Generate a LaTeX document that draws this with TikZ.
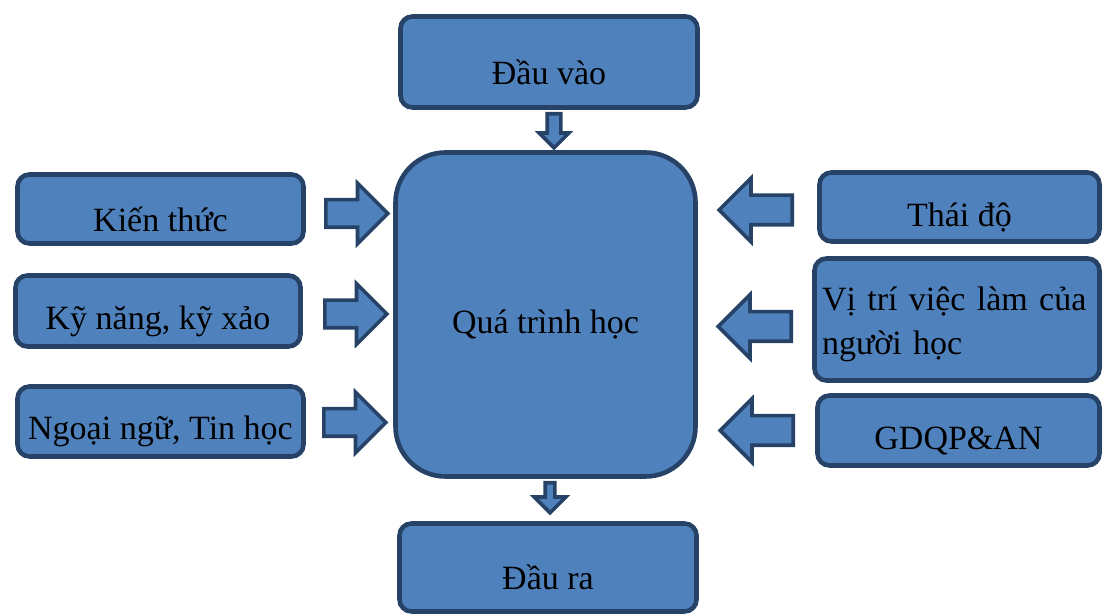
\documentclass[tikz,border=0pt]{standalone}
\usepackage{fontspec}
\setmainfont{Liberation Serif}
\usetikzlibrary{shapes.arrows}
\definecolor{boxfill}{HTML}{4F81BD}
\definecolor{boxline}{HTML}{264266}

\begin{document}
\begin{tikzpicture}
[x=1pt,y=1pt,%
  every node/.style={inner sep=0pt},%
  box/.style={draw=boxline,fill=boxfill,line width=4.6pt,rounded corners=12pt},%
  every label/.style={font=\fontsize{34}{44}\selectfont,yshift=-10pt,align=center},%
  push/.style={single arrow,draw=boxline,fill=boxfill,line width=3.6pt,inner xsep=0pt,anchor=tail},%
  pushr/.style={push,minimum height=62pt,inner ysep=12pt,single arrow head extend=16.5pt},%
  pushl/.style={push,rotate=180,minimum height=73pt,inner ysep=13pt,single arrow head extend=17pt}]
\useasboundingbox (0,0) rectangle (1105,615);
% middle column
\node[box,minimum width=297pt,minimum height=91pt,label=center:Đầu vào] (vao) at (549,553) {};
\node[box,rounded corners=50pt,minimum width=300pt,minimum height=324pt,
  label=center:Quá trình học] (qua) at (545.5,300.5) {};
\node[box,minimum width=297pt,minimum height=88pt,label=center:Đầu ra] (ra) at (548,47.5) {};
% left column
\node[box,minimum width=286pt,minimum height=69pt,label=center:Kiến thức] (kien) at (160.5,406) {};
\node[box,minimum width=285pt,minimum height=71pt,label={center:Kỹ năng, kỹ xảo}] (kyn) at (158,304) {};
\node[box,minimum width=286pt,minimum height=70pt,label={center:Ngoại ngữ, Tin học}] (ngoai) at (160.5,193.5) {};
% right column
\node[box,minimum width=280pt,minimum height=69pt,label=center:Thái độ] (thai) at (959.5,408) {};
\node[box,minimum width=285pt,minimum height=122pt,
  label={[text width=270pt,align=left,yshift=5pt]center:Vị trí việc làm của\\người học}] (vitri) at (957,295.5) {};
\node[box,minimum width=282pt,minimum height=70pt,label=center:GDQP\&AN] (gdqp) at (958.5,184.5) {};
% block arrows
\node[pushr] (akien) at (324,401.5) {};
\node[pushr] (akyn) at (323,301) {};
\node[pushr] (angoai) at (322,192.5) {};
\node[pushl] (athai) at (794,405) {};
\node[pushl] (avitri) at (793,288.5) {};
\node[pushl] (agdqp) at (795,184.5) {};
\node[push,rotate=-90,minimum height=34pt,inner ysep=5pt,single arrow head extend=8pt] (avao) at (554,503) {};
\node[push,rotate=-90,minimum height=30pt,inner ysep=3pt,single arrow head extend=11pt] (ara) at (550,134) {};
\end{tikzpicture}
\end{document}
